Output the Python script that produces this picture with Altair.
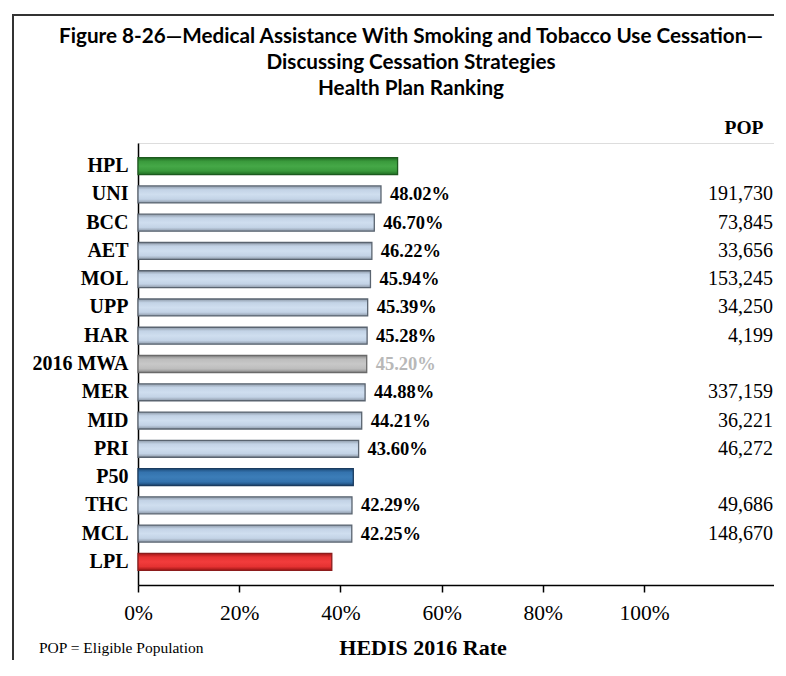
import altair as alt
import pandas as pd

plans = ["HPL", "UNI", "BCC", "AET", "MOL", "UPP", "HAR", "2016 MWA", "MER", "MID", "PRI", "P50", "THC", "MCL", "LPL"]
rates = [51.3, 48.02, 46.70, 46.22, 45.94, 45.39, 45.28, 45.20, 44.88, 44.21, 43.60, 42.55, 42.29, 42.25, 38.3]
pops = [None, 191730, 73845, 33656, 153245, 34250, 4199, None, 337159, 36221, 46272, None, 49686, 148670, None]
kinds = ["hpl", "plan", "plan", "plan", "plan", "plan", "plan", "mwa", "plan", "plan", "plan", "p50", "plan", "plan", "lpl"]
title_lines = ["Figure 8-26\u2014Medical Assistance With Smoking and Tobacco Use Cessation\u2014",
               "Discussing Cessation Strategies",
               "Health Plan Ranking"]
tick_values = [0, 20, 40, 60, 80, 100]
pop_header = "POP"
axis_title = "HEDIS 2016 Rate"
footnote = "POP = Eligible Population"

df = pd.DataFrame({"plan": plans, "rate": rates, "pop": pops, "kind": kinds})

W, H = 636, 442
PAD_L, PAD_T, PAD_R, PAD_B = 130, 135, 0, 75
SERIF = "Liberation Serif"
XMAX = W / 5.06

def grad(edge, mid1, mid2):
    return alt.LinearGradient(
        gradient="linear", x1=0, x2=0, y1=0, y2=1,
        stops=[alt.GradientStop(color=edge, offset=0),
               alt.GradientStop(color=mid1, offset=0.22),
               alt.GradientStop(color=mid2, offset=0.5),
               alt.GradientStop(color=mid1, offset=0.78),
               alt.GradientStop(color=edge, offset=1)])

styles = {
    "plan": (grad("#8d99a8", "#c3d3e6", "#cfdeef"), "#5a6470"),
    "hpl": (grad("#1f6b22", "#3a9a3c", "#45a847"), "#1d5a1f"),
    "mwa": (grad("#8a8a8a", "#bdbdbd", "#c8c8c8"), "#6a6a6a"),
    "p50": (grad("#1d4a78", "#3473ae", "#3c7db8"), "#1b3c60"),
    "lpl": (grad("#a01515", "#e53232", "#f23c3c"), "#8c1c1c"),
}

yenc = alt.Y("plan:N", scale=alt.Scale(domain=plans, paddingInner=0.4, paddingOuter=0.52),
             axis=alt.Axis(title=None, ticks=False, domainColor="black", domainWidth=1.5,
                           labelFont=SERIF, labelFontSize=20, labelFontWeight="bold",
                           labelColor="black", labelPadding=10))
xscale = alt.Scale(domain=[0, XMAX], nice=False, zero=True)
xaxis = alt.Axis(title=None, values=tick_values, labelExpr="datum.value + '%'", grid=False,
                 labelFlush=False,
                 domainColor="black", domainWidth=1.5, tickColor="black", tickWidth=1.5,
                 tickSize=7, labelFont=SERIF, labelFontSize=21.5, labelColor="black",
                 labelPadding=10)

base = alt.Chart(df)
layers = []
for k, (fill, stroke) in styles.items():
    layers.append(
        base.transform_filter(alt.datum.kind == k)
        .mark_bar(fill=fill, stroke=stroke, strokeWidth=1.3)
        .encode(x=alt.X("rate:Q", scale=xscale, axis=xaxis), y=yenc)
    )

pct = (base.transform_filter("datum.kind == 'plan' || datum.kind == 'mwa'")
       .transform_calculate(label="format(datum.rate, '.2f') + '%'")
       .mark_text(align="left", baseline="middle", dx=9, font=SERIF, fontSize=18.5, fontWeight="bold")
       .encode(x=alt.X("rate:Q", scale=xscale, axis=xaxis), y=yenc, text="label:N",
               color=alt.condition("datum.kind == 'mwa'", alt.value("#b8b8b8"), alt.value("black"))))

popt = (base.transform_filter("isValid(datum.pop)")
        .mark_text(align="right", baseline="middle", font=SERIF, fontSize=20, color="black")
        .encode(x=alt.value(W - 1), y=yenc, text=alt.Text("pop:Q", format=",")))

def label_layer(text, x, y, **kw):
    return alt.Chart(pd.DataFrame({"t": [text]})).mark_text(baseline="middle", **kw).encode(
        x=alt.value(x), y=alt.value(y), text="t:N")

extra = [
    label_layer(pop_header, 606, -15, align="center", font=SERIF, fontSize=19.5, fontWeight="bold", color="black"),
    label_layer(axis_title, 285, H + 63, align="center", font=SERIF, fontSize=22, fontWeight="bold", color="black"),
    label_layer(footnote, -99, H + 63, align="left", font=SERIF, fontSize=15.5, color="black"),
]
for line, yy in zip(title_lines, [-106, -80, -54]):
    extra.append(label_layer(line, 273, yy, align="center", font="Lato", fontSize=20.7,
                             fontWeight="bold", color="black"))

border_v = alt.Chart(pd.DataFrame({"a": [0]})).mark_rect(color="#333333").encode(
    x=alt.value(-126), x2=alt.value(-124), y=alt.value(-129), y2=alt.value(H + PAD_B))
border_h = alt.Chart(pd.DataFrame({"a": [0]})).mark_rect(color="#333333").encode(
    x=alt.value(-126), x2=alt.value(W), y=alt.value(-129), y2=alt.value(-127))

chart = alt.layer(*layers, pct, popt, *extra, border_v, border_h).properties(
    width=W, height=H,
    autosize=alt.AutoSizeParams(type="none"),
    padding={"left": PAD_L, "top": PAD_T, "right": PAD_R, "bottom": PAD_B},
).configure_view(stroke="transparent", strokeWidth=0).configure(background="white")

chart.save("out.html", embed_options={"renderer": "svg", "actions": False})
